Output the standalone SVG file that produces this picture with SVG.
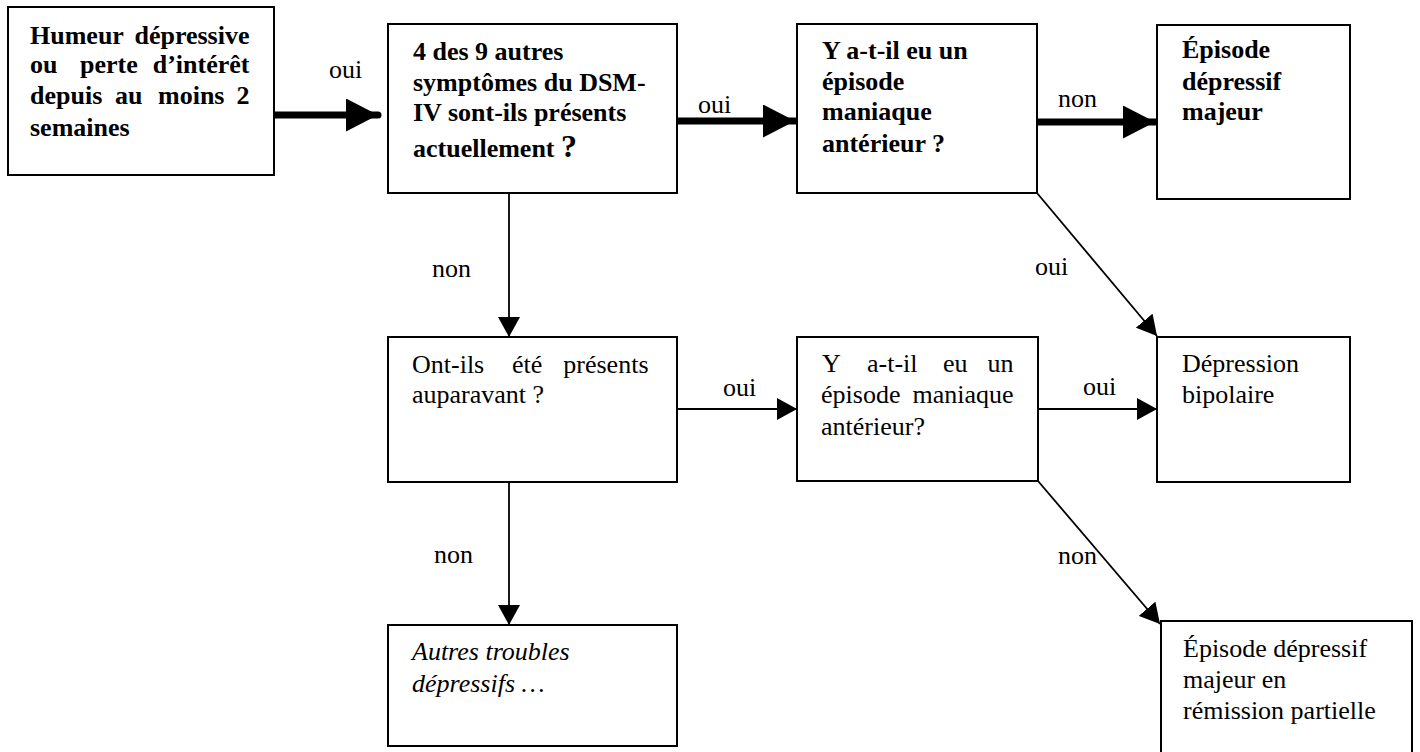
<svg xmlns="http://www.w3.org/2000/svg" width="1420" height="752" viewBox="0 0 1420 752">
  <style>
    .box { fill: #ffffff; stroke: #000000; stroke-width: 2; }
    .t { font-family: "Liberation Serif", "DejaVu Serif", serif; font-size: 26px; fill: #000000; }
    .b { font-weight: bold; }
    .i { font-style: italic; }
    .lbl { font-family: "Liberation Serif", "DejaVu Serif", serif; font-size: 26px; fill: #000000; }
    .thin { stroke: #000000; stroke-width: 1.8; fill: none; marker-end: url(#arrow); }
    .thick { stroke: #000000; stroke-width: 7; stroke-linecap: round; fill: none; marker-end: url(#arrowBig); }
  </style>
  <defs>
    <marker id="arrow" markerUnits="userSpaceOnUse" markerWidth="20" markerHeight="22" refX="20" refY="11" orient="auto">
      <path d="M0,0 L20,11 L0,22 z" fill="#000000"/>
    </marker>
    <marker id="arrowBig" markerUnits="userSpaceOnUse" markerWidth="32" markerHeight="33" refX="32" refY="16.5" orient="auto">
      <path d="M0,0 L32,16.5 L0,33 z" fill="#000000"/>
    </marker>
  </defs>

  <rect width="1420" height="752" fill="#ffffff"/>

  <!-- connectors and their yes/no labels -->
  <g id="connectors">
    <line class="thick" x1="258" y1="115" x2="378" y2="115"/>
    <line class="thick" x1="677" y1="121" x2="795" y2="121"/>
    <line class="thick" x1="1037" y1="122" x2="1155" y2="122"/>
    <line class="thin" x1="509" y1="193" x2="509" y2="337"/>
    <line class="thin" x1="509" y1="482" x2="509" y2="625"/>
    <line class="thin" x1="677" y1="409" x2="797" y2="409"/>
    <line class="thin" x1="1038" y1="409" x2="1157" y2="409"/>
    <line class="thin" x1="1037" y1="193" x2="1157" y2="336"/>
    <line class="thin" x1="1038" y1="481" x2="1160" y2="624"/>

    <text class="lbl" x="329" y="78" font-size="22">oui</text>
    <text class="lbl" x="698" y="113" font-size="30">oui</text>
    <text class="lbl" x="1058" y="107">non</text>
    <text class="lbl" x="432" y="277">non</text>
    <text class="lbl" x="1035" y="275">oui</text>
    <text class="lbl" x="723" y="396">oui</text>
    <text class="lbl" x="1083" y="395">oui</text>
    <text class="lbl" x="434" y="563">non</text>
    <text class="lbl" x="1058" y="564">non</text>
  </g>

  <!-- initial condition -->
  <g id="n-humeur">
    <rect class="box" x="8" y="7" width="266" height="168"/>
    <text class="t b">
      <tspan x="30" y="44">Humeur</tspan><tspan x="256" y="44" text-anchor="end">dépressive</tspan>
      <tspan x="30" y="73">ou</tspan><tspan x="80" y="73">perte</tspan><tspan x="256" y="73" text-anchor="end">d’intérêt</tspan>
      <tspan x="30" y="104">depuis</tspan><tspan x="115" y="104">au</tspan><tspan x="158" y="104">moins</tspan><tspan x="256" y="104" text-anchor="end">2</tspan>
      <tspan x="30" y="136">semaines</tspan>
    </text>
  </g>

  <g id="n-symptomes">
    <rect class="box" x="388" y="24" width="289" height="169"/>
    <text class="t b">
      <tspan x="413" y="60">4 des 9 autres</tspan>
      <tspan x="413" y="91">symptômes du DSM-</tspan>
      <tspan x="413" y="121">IV sont-ils présents</tspan>
      <tspan x="413" y="157">actuellement <tspan font-size="32">?</tspan></tspan>
    </text>
  </g>

  <g id="n-maniaque-1">
    <rect class="box" x="797" y="24" width="240" height="169"/>
    <text class="t b">
      <tspan x="822" y="59">Y a-t-il eu un</tspan>
      <tspan x="822" y="90">épisode</tspan>
      <tspan x="822" y="120">maniaque</tspan>
      <tspan x="822" y="152">antérieur ?</tspan>
    </text>
  </g>

  <g id="n-edm">
    <rect class="box" x="1157" y="25" width="193" height="174"/>
    <text class="t b">
      <tspan x="1182" y="58">Épisode</tspan>
      <tspan x="1182" y="90">dépressif</tspan>
      <tspan x="1182" y="120">majeur</tspan>
    </text>
  </g>

  <g id="n-auparavant">
    <rect class="box" x="388" y="337" width="289" height="145"/>
    <text class="t">
      <tspan x="412" y="373">Ont-ils</tspan><tspan x="512" y="373">été</tspan><tspan x="655" y="373" text-anchor="end">présents</tspan>
      <tspan x="412" y="403">auparavant ?</tspan>
    </text>
  </g>

  <g id="n-maniaque-2">
    <rect class="box" x="797" y="337" width="241" height="144"/>
    <text class="t">
      <tspan x="822" y="372">Y</tspan><tspan x="867" y="372">a-t-il</tspan><tspan x="943" y="372">eu</tspan><tspan x="1020" y="372" text-anchor="end">un</tspan>
      <tspan x="821" y="403">épisode</tspan><tspan x="1020" y="403" text-anchor="end">maniaque</tspan>
      <tspan x="821" y="435">antérieur?</tspan>
    </text>
  </g>

  <g id="n-bipolaire">
    <rect class="box" x="1157" y="337" width="193" height="145"/>
    <text class="t">
      <tspan x="1182" y="372">Dépression</tspan>
      <tspan x="1182" y="403">bipolaire</tspan>
    </text>
  </g>

  <g id="n-autres">
    <rect class="box" x="388" y="625" width="289" height="121"/>
    <text class="t i">
      <tspan x="412" y="660">Autres troubles</tspan>
      <tspan x="412" y="692">dépressifs …</tspan>
    </text>
  </g>

  <g id="n-remission">
    <rect class="box" x="1161" y="621" width="251" height="150"/>
    <text class="t">
      <tspan x="1183" y="657">Épisode dépressif</tspan>
      <tspan x="1183" y="688">majeur en</tspan>
      <tspan x="1183" y="719">rémission partielle</tspan>
    </text>
  </g>
</svg>
